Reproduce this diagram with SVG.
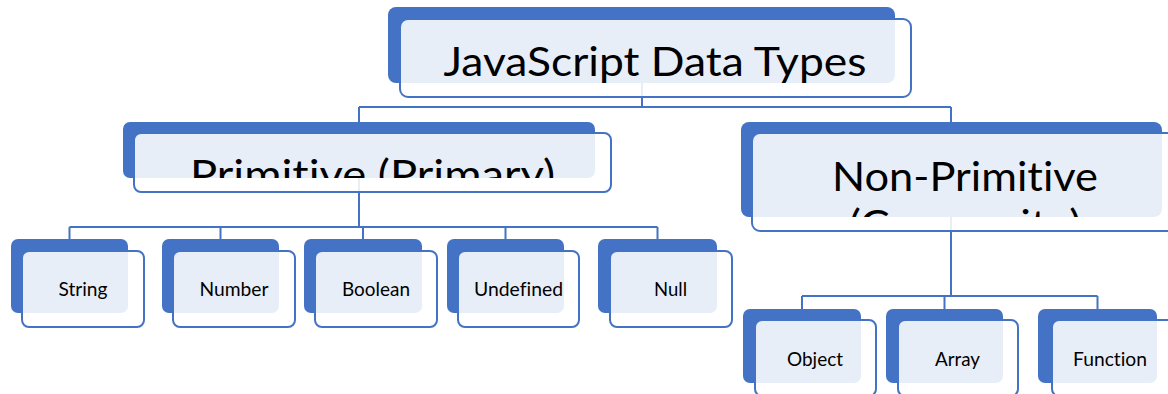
<svg xmlns="http://www.w3.org/2000/svg" width="1168" height="394" viewBox="0 0 1168 394">
<style>
.back{fill:#4472C4}
.front{fill:#ffffff;fill-opacity:0.88;stroke:#4472C4;stroke-width:2}
.conn{stroke:#4472C4;stroke-width:2;fill:none}
.big{font-family:Lato,"Liberation Sans",sans-serif;font-size:40px;fill:#000;text-anchor:middle;font-variant-ligatures:none}
.small{font-family:Lato,"Liberation Sans",sans-serif;font-size:19px;fill:#000;text-anchor:middle;font-variant-ligatures:none}
</style>
<defs>
<clipPath id="c-top"><rect x="388" y="7" width="507" height="76" rx="8"/></clipPath>
<clipPath id="c-prim"><rect x="123" y="122" width="472" height="56" rx="7"/></clipPath>
<clipPath id="c-nonprim"><rect x="741" y="122" width="421" height="95" rx="8"/></clipPath>
</defs>
<rect width="1168" height="394" fill="#ffffff"/>
<g id="connectors">
<path class="conn" d="M642 83V107M359 107H951M359 107V122M951 107V122"/>
<path class="conn" d="M359 178V227M69.5 227H657.5M69.5 227V239M220.5 227V239M363 227V239M505.5 227V239M657.5 227V239"/>
<path class="conn" d="M951 217V296M802 296H1097.5M802 296V309M944.5 296V309M1097.5 296V309"/>
</g>
<g id="node-top">
<rect class="back" x="388" y="7" width="507" height="76" rx="8"/>
<rect class="front" x="400" y="19" width="511" height="78" rx="8"/>
<text class="big" x="655" y="76" textLength="423" lengthAdjust="spacingAndGlyphs" clip-path="url(#c-top)">JavaScript Data Types</text>
</g>
<g id="node-primitive">
<rect class="back" x="123" y="122" width="472" height="56" rx="7"/>
<rect class="front" x="134" y="133" width="477" height="59" rx="7"/>
<text class="big" x="372.5" y="189" textLength="365" lengthAdjust="spacingAndGlyphs" clip-path="url(#c-prim)">Primitive (Primary)</text>
</g>
<g id="node-nonprimitive">
<rect class="back" x="741" y="122" width="421" height="95" rx="8"/>
<rect class="front" x="752" y="133" width="423" height="98" rx="8"/>
<text class="big" clip-path="url(#c-nonprim)"><tspan x="965" y="191" textLength="266" lengthAdjust="spacingAndGlyphs">Non-Primitive</tspan><tspan x="965" y="239" textLength="232" lengthAdjust="spacingAndGlyphs">(Composite)</tspan></text>
</g>
<g id="node-string">
<rect class="back" x="11" y="239" width="117" height="74" rx="7"/>
<rect class="front" x="22" y="251" width="122" height="76" rx="7"/>
<text class="small" x="83" y="296" textLength="49" lengthAdjust="spacingAndGlyphs">String</text>
</g>
<g id="node-number">
<rect class="back" x="162" y="239" width="117" height="74" rx="7"/>
<rect class="front" x="173" y="251" width="122" height="76" rx="7"/>
<text class="small" x="234" y="296" textLength="69" lengthAdjust="spacingAndGlyphs">Number</text>
</g>
<g id="node-boolean">
<rect class="back" x="304" y="239" width="118" height="74" rx="7"/>
<rect class="front" x="315" y="251" width="122" height="76" rx="7"/>
<text class="small" x="376" y="296" textLength="68" lengthAdjust="spacingAndGlyphs">Boolean</text>
</g>
<g id="node-undefined">
<rect class="back" x="447" y="239" width="117" height="74" rx="7"/>
<rect class="front" x="458" y="251" width="121" height="76" rx="7"/>
<text class="small" x="518.5" y="296" textLength="89" lengthAdjust="spacingAndGlyphs">Undefined</text>
</g>
<g id="node-null">
<rect class="back" x="598" y="239" width="119" height="74" rx="7"/>
<rect class="front" x="610" y="251" width="122" height="76" rx="7"/>
<text class="small" x="670.5" y="296" textLength="33" lengthAdjust="spacingAndGlyphs">Null</text>
</g>
<g id="node-object">
<rect class="back" x="743" y="309" width="118" height="74" rx="7"/>
<rect class="front" x="755" y="320" width="121" height="76" rx="7"/>
<text class="small" x="815" y="366" textLength="56" lengthAdjust="spacingAndGlyphs">Object</text>
</g>
<g id="node-array">
<rect class="back" x="886" y="309" width="117" height="74" rx="7"/>
<rect class="front" x="898" y="320" width="120" height="76" rx="7"/>
<text class="small" x="957.5" y="366" textLength="45" lengthAdjust="spacingAndGlyphs">Array</text>
</g>
<g id="node-function">
<rect class="back" x="1038" y="309" width="119" height="74" rx="7"/>
<rect class="front" x="1052" y="320" width="122" height="76" rx="7"/>
<text class="small" x="1110" y="366" textLength="74" lengthAdjust="spacingAndGlyphs">Function</text>
</g>
</svg>
